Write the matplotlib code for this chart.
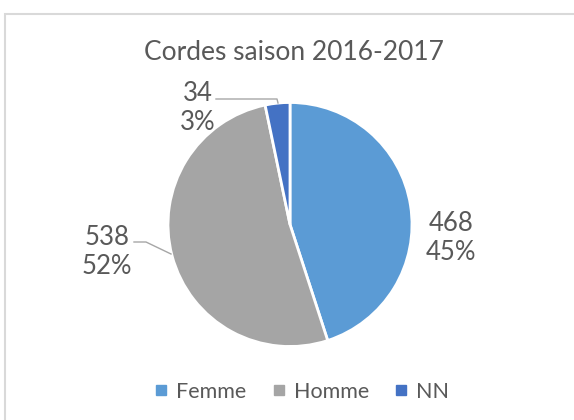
import matplotlib
matplotlib.use("Agg")
import matplotlib.pyplot as plt
from matplotlib.patches import Rectangle
from matplotlib.lines import Line2D
import numpy as np

title = "Cordes saison 2016-2017"
categories = ["Femme", "Homme", "NN"]
values = [468, 538, 34]
colors = ["#5B9BD5", "#A5A5A5", "#4472C4"]

plt.rcParams['font.family'] = ['Lato', 'DejaVu Sans']
txt = "#595959"

W, H = 574, 420
fig = plt.figure(figsize=(W/100, H/100), dpi=100)

# chart border
fig.patches.append(Rectangle((5/W, -0.1), 1.2, (420-14)/H + 0.1, transform=fig.transFigure,
                             fill=False, edgecolor="#D9D9D9", linewidth=1.5))

cx, cy, R = 290, 224.5, 122
ax = fig.add_axes([(cx-R)/W, (H-cy-R)/H, 2*R/W, 2*R/H])
wedges, _ = ax.pie(values, colors=colors, startangle=90, counterclock=False,
                   wedgeprops=dict(edgecolor="white", linewidth=2))
ax.set_xlim(-1, 1); ax.set_ylim(-1, 1)
ax.set_aspect('equal')

def d(px, py):
    return ((px-cx)/R, (cy-py)/R)

total = sum(values)
label_pos = [(451, 238), (107, 252), (198, 108)]
for v, (px, py) in zip(values, label_pos):
    x, y = d(px, py)
    ax.text(x, y, f"{v}\n{round(100*v/total)}%", ha="center", va="center",
            fontsize=18.5, color=txt, linespacing=1.2)

# leader lines
for pts in [[(134, 242), (146, 242), (171, 254)], [(216, 99), (277, 99), (278, 103)]]:
    xs, ys = zip(*[d(*p) for p in pts])
    ax.plot(xs, ys, color="#A6A6A6", lw=1, clip_on=False)

fig.text(294/W, 1-53/H, title, ha="center", va="center", fontsize=19, color=txt)

handles = [Line2D([], [], marker="s", linestyle="", markersize=7.5, color=c) for c in colors]
fig.legend(handles, categories, loc="center", bbox_to_anchor=(301/W, 1-392/H), ncol=3,
           frameon=False, fontsize=15.5, labelcolor=txt, handletextpad=0.3, columnspacing=1.1,
           handlelength=0.8)

fig.savefig("out.png", dpi=100)
